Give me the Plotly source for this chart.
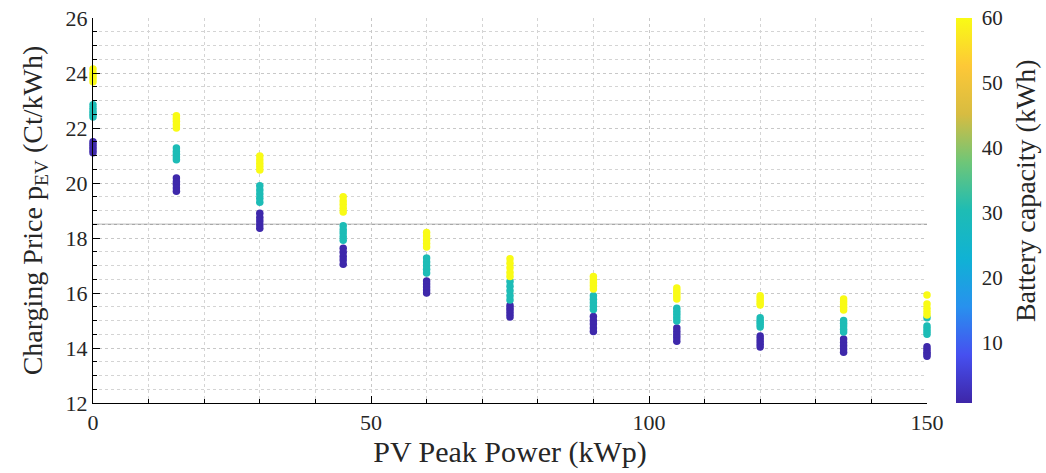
import plotly.graph_objects as go

# ---- data ----
pv_power = [0, 15, 30, 45, 60, 75, 90, 105, 120, 135, 150]
battery_levels = [1, 30, 60]

price_bat_1 = [
    [21.5, 21.4, 21.3, 21.2, 21.1],
    [20.18, 20.05, 19.95, 19.82, 19.7],
    [18.9, 18.75, 18.62, 18.48, 18.35],
    [17.63, 17.48, 17.33, 17.2, 17.05],
    [16.44, 16.33, 16.22, 16.11, 16.0],
    [15.55, 15.45, 15.35, 15.24, 15.13],
    [15.15, 15.0, 14.87, 14.73, 14.6],
    [14.73, 14.6, 14.48, 14.37, 14.25],
    [14.44, 14.34, 14.24, 14.14, 14.04],
    [14.33, 14.2, 14.08, 13.96, 13.85],
    [14.05, 13.95, 13.85, 13.78, 13.7],
]
price_bat_30 = [
    [22.85, 22.72, 22.6, 22.5, 22.4],
    [21.27, 21.15, 21.05, 20.95, 20.85],
    [19.9, 19.75, 19.6, 19.45, 19.3],
    [18.45, 18.3, 18.18, 18.05, 17.92],
    [17.27, 17.13, 17.0, 16.86, 16.73],
    [16.42, 16.25, 16.08, 15.9, 15.75],
    [15.9, 15.77, 15.65, 15.52, 15.4],
    [15.45, 15.33, 15.22, 15.1, 14.98],
    [15.1, 15.0, 14.93, 14.85, 14.76],
    [15.0, 14.9, 14.8, 14.68, 14.58],
    [15.1, 14.8, 14.7, 14.6, 14.5],
]
price_bat_60 = [
    [24.15, 24.0, 23.9, 23.8, 23.68],
    [22.45, 22.35, 22.25, 22.12, 22.0],
    [20.98, 20.85, 20.72, 20.6, 20.47],
    [19.5, 19.35, 19.22, 19.08, 18.95],
    [18.2, 18.07, 17.93, 17.8, 17.67],
    [17.25, 17.08, 16.92, 16.75, 16.6],
    [16.6, 16.48, 16.37, 16.26, 16.15],
    [16.18, 16.08, 15.98, 15.88, 15.78],
    [15.9, 15.82, 15.73, 15.64, 15.56],
    [15.78, 15.68, 15.58, 15.48, 15.38],
    [15.93, 15.6, 15.45, 15.32, 15.2],
]

cbar_ticks = [10, 20, 30, 40, 50, 60]
x_ticks = [0, 50, 100, 150]
y_ticks = [12, 14, 16, 18, 20, 22, 24, 26]

parula = [
    [0.0, "rgb(62,38,168)"],
    [0.125, "rgb(70,80,240)"],
    [0.25, "rgb(40,145,238)"],
    [0.375, "rgb(16,178,212)"],
    [0.5, "rgb(30,188,180)"],
    [0.625, "rgb(110,198,120)"],
    [0.75, "rgb(215,188,65)"],
    [0.875, "rgb(253,200,55)"],
    [1.0, "rgb(249,251,21)"],
]

xs, ys, cs = [], [], []
for level, table in zip(battery_levels, [price_bat_1, price_bat_30, price_bat_60]):
    for xv, vals in zip(pv_power, table):
        for v in vals:
            xs.append(xv)
            ys.append(v)
            cs.append(level)

FONT = "Liberation Serif"
TXT = "#262626"
fig = go.Figure()
fig.add_trace(go.Scatter(
    x=xs, y=ys, mode="markers", cliponaxis=False,
    marker=dict(
        size=7.5, color=cs, colorscale=parula, cmin=0.7, cmax=60,
        line=dict(width=0),
        showscale=True,
        colorbar=dict(
            x=1.035, xanchor="left", y=0.5, yanchor="middle",
            len=1, lenmode="fraction", thickness=16, outlinewidth=0,
            xpad=0, ypad=0,
            tickvals=cbar_ticks, ticks="outside", ticklen=6,
            tickcolor="rgba(0,0,0,0)",
            tickfont=dict(family=FONT, size=21, color=TXT),
        ),
    ),
    showlegend=False,
))

fig.add_annotation(
    text="Battery capacity (kWh)", xref="paper", yref="paper",
    x=1.1175, y=0.553, xanchor="center", yanchor="middle", textangle=-90,
    showarrow=False, font=dict(family=FONT, size=28, color=TXT),
)

fig.add_shape(type="line", xref="x domain", yref="y", x0=0, x1=1, y0=18.5, y1=18.5,
              line=dict(color="rgba(100,100,100,0.75)", width=1), layer="below")

fig.update_layout(
    width=1046, height=473,
    margin=dict(l=93, r=119, t=18, b=70, autoexpand=False),
    plot_bgcolor="white", paper_bgcolor="white",
    font=dict(family=FONT, color=TXT),
)
fig.update_xaxes(
    range=[0, 150], tickvals=x_ticks, showline=True, linecolor="black", linewidth=1,
    ticks="inside", ticklen=7, tickcolor="black",
    showgrid=True, gridcolor="#c8c8c8", griddash="dot", gridwidth=1,
    minor=dict(dtick=10, showgrid=True, gridcolor="#d4d4d4", griddash="dot",
               ticks="inside", ticklen=4, tickcolor="black"),
    zeroline=False, tickfont=dict(family=FONT, size=22, color=TXT),
    title=dict(text="PV Peak Power (kWp)", font=dict(family=FONT, size=30, color=TXT), standoff=2),
)
fig.update_yaxes(
    range=[12, 26], tickvals=y_ticks, showline=True, linecolor="black", linewidth=1,
    ticks="inside", ticklen=7, tickcolor="black",
    showgrid=True, gridcolor="#c8c8c8", griddash="dot", gridwidth=1,
    minor=dict(dtick=0.5, showgrid=True, gridcolor="#d4d4d4", griddash="dot",
               ticks="inside", ticklen=4, tickcolor="black"),
    zeroline=False, tickfont=dict(family=FONT, size=22, color=TXT),
    title=dict(text="Charging Price p<sub>EV</sub> (Ct/kWh)", font=dict(family=FONT, size=28, color=TXT), standoff=14),
)

fig.write_html("out.html")
